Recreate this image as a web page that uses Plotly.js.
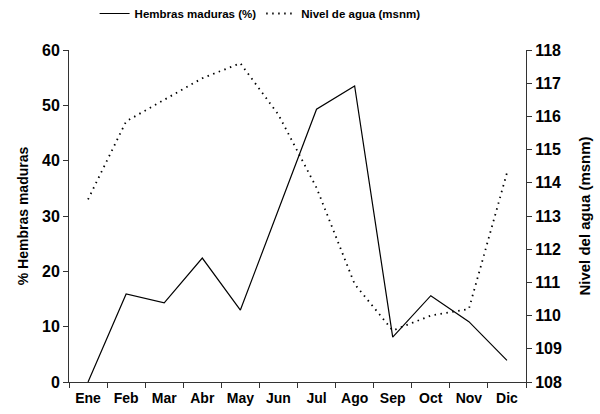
<!DOCTYPE html>
<html>
<head>
<meta charset="utf-8">
<script src="https://cdn.plot.ly/plotly-3.0.1.min.js"></script>
<style>html,body{margin:0;padding:0;background:#fff;}#chart{width:600px;height:414px;}</style>
</head>
<body>
<div id="chart"></div>
<script>
const months = ["Ene","Feb","Mar","Abr","May","Jun","Jul","Ago","Sep","Oct","Nov","Dic"];
const hembras = [0, 15.9, 14.3, 22.4, 13.0, 31.0, 49.3, 53.5, 8.1, 15.6, 10.9, 3.9];
const nivel = [113.5, 115.85, 116.5, 117.15, 117.6, 116.05, 113.85, 110.95, 109.55, 110.0, 110.2, 114.3];
const seriesNames = ["Hembras maduras (%)", "Nivel de agua (msnm)"];
const leftTitle = "% Hembras maduras";
const rightTitle = "Nivel del agua (msnm)";

const fontFam = "Liberation Sans, Arial, sans-serif";

const traces = [
  {x: months, y: hembras, name: seriesNames[0], type: "scatter", mode: "lines",
   line: {color: "#000", width: 1.2}, yaxis: "y"},
  {x: months, y: nivel, name: seriesNames[1], type: "scatter", mode: "lines",
   line: {color: "#000", width: 1.8, dash: "1.5px,4.5px"}, yaxis: "y2"}
];

const layout = {
  width: 600, height: 414,
  margin: {l: 69, r: 74, t: 50, b: 32, autoexpand: false},
  paper_bgcolor: "#fff", plot_bgcolor: "#fff",
  font: {family: fontFam, color: "#000", size: 15, weight: "bold"},
  showlegend: true,
  legend: {orientation: "h", x: 0.056, y: 1.11, xanchor: "left", yanchor: "middle",
           font: {family: fontFam, size: 11.5, weight: "bold"}, bgcolor: "rgba(0,0,0,0)",
           itemwidth: 30, tracegroupgap: 0},
  xaxis: {type: "category", range: [-0.5, 11.5], showline: true, linecolor: "#333", linewidth: 1,
          ticks: "outside", ticklen: 5, tickcolor: "#333", tickson: "boundaries",
          showgrid: false, zeroline: false, tickangle: 0, ticklabelstandoff: 3,
          tickfont: {family: fontFam, size: 14, weight: "bold"}},
  yaxis: {range: [0, 60], dtick: 10, showline: true, linecolor: "#333", linewidth: 1,
          ticks: "outside", ticklen: 5, tickcolor: "#333", showgrid: false, zeroline: false,
          tickfont: {family: fontFam, size: 16, weight: "bold"},
          title: {text: leftTitle, font: {family: fontFam, size: 14, weight: "bold"}, standoff: 10}},
  yaxis2: {range: [108, 118], dtick: 1, overlaying: "y", side: "right", anchor: "x",
           showline: true, linecolor: "#333", linewidth: 1,
           ticks: "outside", ticklen: 5, tickcolor: "#333", showgrid: false, zeroline: false,
           tickfont: {family: fontFam, size: 16, weight: "bold"},
           title: {text: rightTitle, font: {family: fontFam, size: 15, weight: "bold"}, standoff: 18}}
};

Plotly.newPlot("chart", traces, layout, {displayModeBar: false, staticPlot: true});
</script>
</body>
</html>
